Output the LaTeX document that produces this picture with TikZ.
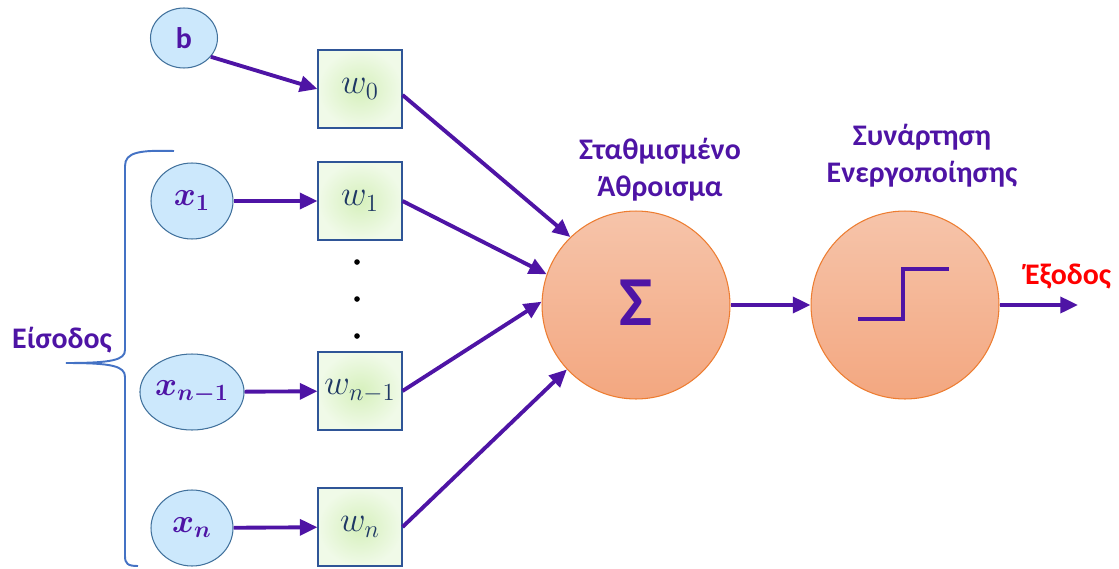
\documentclass[tikz,border=0pt]{standalone}
\usepackage{fix-cm}
\usepackage{bm}
\usepackage{fontspec}
\newfontfamily\labfont{Carlito}
\usetikzlibrary{arrows.meta,shapes.geometric,calc}
\definecolor{vio}{RGB}{78,20,165}
\definecolor{navy}{RGB}{31,56,100}
\definecolor{ellfill}{RGB}{204,232,252}
\definecolor{elldraw}{RGB}{65,113,156}
\definecolor{boxin}{RGB}{214,240,188}
\definecolor{boxout}{RGB}{240,250,232}
\definecolor{boxdraw}{RGB}{47,85,151}
\definecolor{circtop}{RGB}{246,196,170}
\definecolor{circbot}{RGB}{243,167,128}
\definecolor{circdraw}{RGB}{237,125,49}
\definecolor{bracecol}{RGB}{68,114,196}
\tikzset{
  inp/.style={ellipse, draw=elldraw, line width=0.6pt, fill=ellfill, minimum width=1.64cm, minimum height=1.52cm, inner sep=0pt, text=vio},
  bnode/.style={ellipse, draw=elldraw, line width=0.6pt, fill=ellfill, minimum width=1.34cm, minimum height=1.2cm, inner sep=0pt, text=vio},
  wbox/.style={rectangle, draw=boxdraw, line width=0.6pt, inner color=boxin, outer color=boxout, minimum width=1.68cm, minimum height=1.56cm, inner sep=0pt, text=navy},
  neuron/.style={circle, draw=circdraw, line width=0.6pt, top color=circtop, bottom color=circbot, minimum size=3.76cm, inner sep=0pt},
  conn/.style={draw=vio, line width=2.2pt, -{Triangle[length=10pt,width=9pt]}},
  lbl/.style={text=vio, font=\labfont\bfseries\fontsize{17}{21}\selectfont, align=center},
  mathx/.style={font=\fontsize{19}{22}\selectfont},
  mathw/.style={font=\fontsize{20}{22}\selectfont}
}
\begin{document}
\begin{tikzpicture}[x=0.02cm,y=-0.02cm]
\useasboundingbox (0,0) rectangle (1119,568);
% input nodes
\node[bnode] (b) at (184,38) {\labfont\bfseries\fontsize{17}{20}\selectfont b};
\node[inp,mathx] (x1) at (192,201) {$\bm{x_1}$};
\node[inp,mathx] (xn1) at (192,392) {$\bm{x_{n-1}}$};
\node[inp,mathx] (xn) at (192,528) {$\bm{x_n}$};
% weights
\node[wbox,mathw] (w0) at (360,89) {$w_0$};
\node[wbox,mathw] (w1) at (360,201) {$w_1$};
\node[wbox,mathw] (wn1) at (360,391) {$w_{n-1}$};
\node[wbox,mathw] (wn) at (360,527) {$w_n$};
% dots
\node[circle, fill=black, inner sep=0pt, minimum size=3.2pt] (d1) at (357,262) {};
\node[circle, fill=black, inner sep=0pt, minimum size=3.2pt] (d2) at (357,299) {};
\node[circle, fill=black, inner sep=0pt, minimum size=3.2pt] (d3) at (357,336) {};
% neurons
\node[neuron] (sum) at (636,305) {};
\node[text=vio, font=\labfont\bfseries\fontsize{40}{40}\selectfont] (sig) at (636,303) {Σ};
\node[neuron] (act) at (905,305) {};
\coordinate (out) at (1078,305);
% labels
\node[lbl] (l1) at (660,170) {Σταθμισμένο\\Άθροισμα};
\node[lbl] (l2) at (922,156) {Συνάρτηση\\Ενεργοποίησης};
\node[lbl] (l3) at (62,340) {Είσοδος};
\node[lbl, text=red] (l4) at (1068,277) {Έξοδος};
% connectors
\draw[conn] (b.-35) -- (w0.west);
\draw[conn] (x1) -- (w1);
\draw[conn] (xn1) -- (wn1);
\draw[conn] (xn) -- (wn);
\draw[conn] (w0.-8) -- (sum.134);
\draw[conn] (w1.east) -- (sum.161);
\draw[conn] (wn1.east) -- (sum.178);
\draw[conn] (wn.east) -- (sum.223);
\draw[conn] (sum.east) -- (act.west);
\draw[conn] (act.east) -- (out);
% step function
\draw[vio, line width=2.4pt] ($(act.center)+(-47,14)$) -- ($(act.center)+(-2,14)$) -- ($(act.center)+(-2,-36)$) -- ($(act.center)+(44,-36)$);
% brace
\draw[bracecol, line width=1.1pt] (174,151) .. controls (140,150) and (125,152) .. (125,166) -- (125,350)
  .. controls (125,360) and (112,363) .. (66,363)
  .. controls (112,363) and (125,366) .. (125,377) -- (125,556)
  .. controls (125,564) and (128,566) .. (138,566);
\end{tikzpicture}
\end{document}
